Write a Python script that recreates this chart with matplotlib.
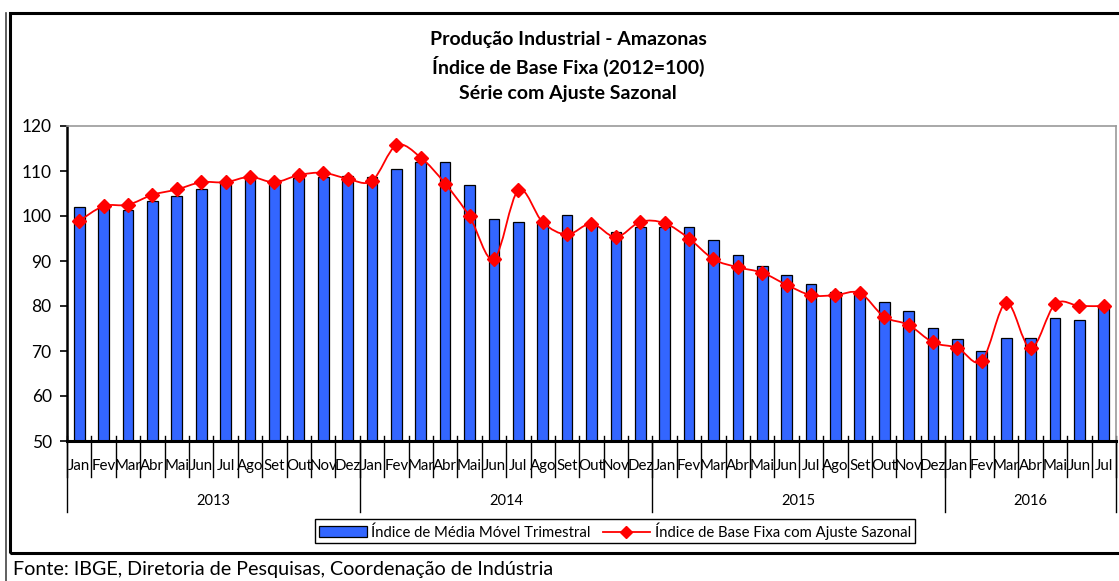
import numpy as np
import matplotlib.pyplot as plt
from matplotlib.path import Path
from matplotlib.patches import PathPatch, Rectangle
from matplotlib.lines import Line2D
import matplotlib.transforms as mtransforms

plt.rcParams["font.family"] = ["Lato", "DejaVu Sans"]

MONTHS = ["Jan", "Fev", "Mar", "Abr", "Mai", "Jun", "Jul", "Ago", "Set", "Out", "Nov", "Dez"]
YEARS = ["2013", "2014", "2015", "2016"]
MONTHS_PER_YEAR = [12, 12, 12, 7]

# Índice de Média Móvel Trimestral (bars), Jan/2013 .. Jul/2016
media_movel = [
    101.9, 101.7, 101.4, 103.3, 104.4, 105.9, 107.4, 108.2, 108.1, 108.5, 108.7, 109.0,
    108.7, 110.5, 112.1, 112.0, 106.9, 99.3, 98.6, 98.5, 100.2, 98.0, 96.5, 97.5,
    97.5, 97.5, 94.7, 91.3, 89.0, 87.0, 85.0, 83.2, 83.0, 81.0, 78.9, 75.2,
    72.7, 70.1, 73.0, 73.0, 77.3, 77.0, 80.0,
]

# Índice de Base Fixa com Ajuste Sazonal (line)
ajuste_sazonal = [
    98.9, 102.2, 102.5, 104.7, 105.9, 107.5, 107.5, 108.7, 107.5, 109.1, 109.6, 108.3,
    107.8, 115.7, 113.0, 107.2, 99.9, 90.4, 105.7, 98.6, 95.9, 98.3, 95.3, 98.7,
    98.4, 95.0, 90.4, 88.6, 87.4, 84.7, 82.4, 82.4, 82.9, 77.6, 75.8, 71.9,
    70.7, 67.8, 80.7, 70.6, 80.4, 80.0, 80.0,
]

TITLE_LINES = [
    "Produção Industrial - Amazonas",
    "Índice de Base Fixa (2012=100)",
    "Série com Ajuste Sazonal",
]
FOOTER = "Fonte: IBGE, Diretoria de Pesquisas, Coordenação de Indústria"
BAR_LABEL = "Índice de Média Móvel Trimestral"
LINE_LABEL = "Índice de Base Fixa com Ajuste Sazonal"

BAR_COLOR = "#3366FF"
LINE_COLOR = "#FF0000"


def smooth_path(x, y):
    """Excel-like smoothed line: cubic Bezier segments through every point."""
    pts = np.column_stack([x, y]).astype(float)
    n = len(pts)
    verts = [pts[0]]
    codes = [Path.MOVETO]
    for i in range(n - 1):
        p0 = pts[max(i - 1, 0)]
        p1 = pts[i]
        p2 = pts[i + 1]
        p3 = pts[min(i + 2, n - 1)]
        c1 = p1 + (p2 - p0) / 6.0
        c2 = p2 - (p3 - p1) / 6.0
        verts += [c1, c2, p2]
        codes += [Path.CURVE4] * 3
    return Path(verts, codes)


def main():
    W, H = 1119, 581
    fig = plt.figure(figsize=(W / 100, H / 100), dpi=100)

    # outer chart frame
    frame = Rectangle((10 / W, 1 - 553 / H), (W + 20 - 10) / W, (553 - 13) / H,
                      transform=fig.transFigure, fill=False, edgecolor="black", lw=2.2)
    fig.patches.append(frame)
    fig.add_artist(Line2D([6 / W, 6 / W], [0, 1 - 13 / H], transform=fig.transFigure,
                          color="#444444", lw=1.2))

    left, right, bottom, top = 67 / W, 1116 / W, 1 - 441 / H, 1 - 126 / H
    ax = fig.add_axes([left, bottom, right - left, top - bottom])

    labels = [m for n in MONTHS_PER_YEAR for m in MONTHS[:n]]
    x = np.arange(len(labels))

    ax.bar(x, media_movel, width=0.44, color=BAR_COLOR, edgecolor="black", lw=0.9, zorder=2)
    ax.add_patch(PathPatch(smooth_path(x, ajuste_sazonal), fill=False,
                           edgecolor=LINE_COLOR, lw=1.3, zorder=3))
    ax.plot(x, ajuste_sazonal, ls="none", marker="D", ms=7, color=LINE_COLOR, zorder=4)

    ax.set_xlim(-0.5, len(labels) - 0.5)
    ax.set_ylim(50, 120)
    ax.set_yticks(np.arange(50, 121, 10))
    ax.tick_params(axis="y", direction="out", length=5, width=1.2, labelsize=12.5, pad=6)
    ax.set_xticks([])

    for side in ["top", "right"]:
        ax.spines[side].set_color("#999999")
        ax.spines[side].set_linewidth(1.2)
    ax.spines["left"].set_linewidth(1.8)
    ax.spines["bottom"].set_linewidth(2.2)

    # category axis: month labels, separators, year labels
    trans = mtransforms.blended_transform_factory(ax.transData, ax.transAxes)
    px = 1.0 / (441 - 126)
    for i, lab in enumerate(labels):
        ax.text(i, -25 * px, lab, transform=trans, ha="center", va="center", fontsize=10.8)
    for b in np.arange(len(labels) + 1) - 0.5:
        ax.plot([b, b], [5 * px, -36 * px], transform=trans, color="black", lw=1.0,
                clip_on=False)
    start = 0
    for year, n in zip(YEARS, MONTHS_PER_YEAR):
        ax.plot([start - 0.5, start - 0.5], [0, -71 * px], transform=trans, color="black",
                lw=1.0, clip_on=False)
        ax.text(start + n / 2 - 0.5, -60 * px, year, transform=trans, ha="center",
                va="center", fontsize=10.5)
        start += n
    ax.plot([start - 0.5, start - 0.5], [0, -71 * px], transform=trans, color="black",
            lw=1.0, clip_on=False)

    for line, ypix in zip(TITLE_LINES, [40, 66, 93]):
        fig.text(568 / W, 1 - ypix / H, line, ha="center", va="center", fontsize=14,
                 fontweight="bold")

    handles = [
        Rectangle((0, 0), 1, 1, facecolor=BAR_COLOR, edgecolor="black", lw=0.9),
        Line2D([], [], color=LINE_COLOR, lw=1.3, marker="D", ms=6),
    ]
    fig.legend(handles, [BAR_LABEL, LINE_LABEL], loc="center",
               bbox_to_anchor=(615 / W, 1 - 531 / H), ncol=2, fontsize=10.7,
               frameon=True, fancybox=False, edgecolor="black", framealpha=1,
               handlelength=3.2, handletextpad=0.3, columnspacing=0.8,
               borderpad=0.25, borderaxespad=0)

    fig.text(13 / W, 1 - 570 / H, FOOTER, ha="left", va="center", fontsize=14.2)

    fig.savefig("out.png", dpi=100)


if __name__ == "__main__":
    main()
